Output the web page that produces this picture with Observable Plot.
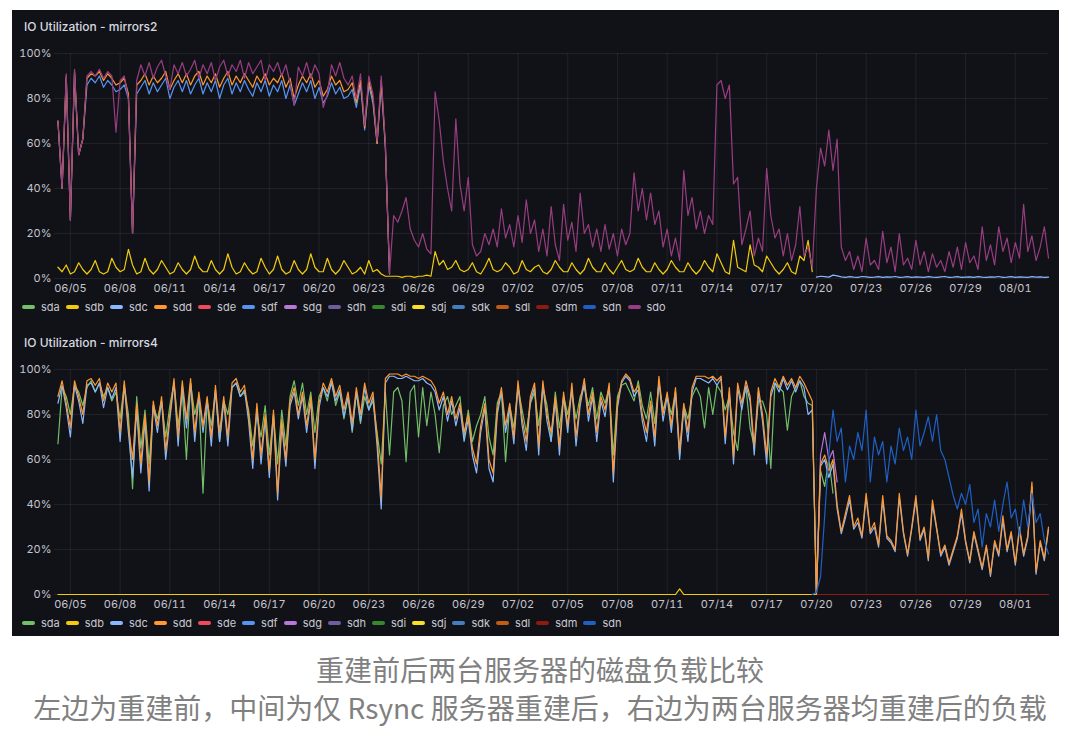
<!DOCTYPE html>
<html><head><meta charset="utf-8">
<script src="https://cdn.jsdelivr.net/npm/d3@7"></script>
<script src="https://cdn.jsdelivr.net/npm/@observablehq/plot@0.6"></script>
<style>
html,body{margin:0;padding:0;background:#fff;}
#page{position:relative;width:1080px;height:744px;overflow:hidden;font-family:Inter,"Noto Sans",sans-serif;}
#dash{position:absolute;left:12px;top:10px;width:1047px;height:626px;background:#111217;}
.ptitle{position:absolute;left:12px;font-size:12px;font-weight:500;color:#d8d9e0;line-height:14px;white-space:nowrap;}
.chart{position:absolute;left:0;}
.legend{position:absolute;left:10px;display:flex;font-size:11px;color:#c8c9d3;line-height:14px;white-space:nowrap;}
.item{display:flex;align-items:center;margin-right:6px;}
.sw{width:13px;height:4px;border-radius:2px;margin-right:6px;}
#caption{position:absolute;left:0;width:1080px;top:650px;text-align:center;font-family:"Noto Sans CJK SC";font-size:28px;line-height:38px;color:#808080;}
</style></head>
<body><div id="page">
<div id="dash">
  <div class="ptitle" id="t1" style="top:10px"></div>
  <div class="chart" id="c1" style="top:30px"></div>
  <div class="legend" id="l1" style="top:290px"></div>
  <div class="ptitle" id="t2" style="top:326px"></div>
  <div class="chart" id="c2" style="top:346px"></div>
  <div class="legend" id="l2" style="top:606px"></div>
</div>
<div id="caption"></div>
</div>
<script>
// ---------- texts ----------
const title1 = "IO Utilization - mirrors2";
const title2 = "IO Utilization - mirrors4";
const captionLines = ["重建前后两台服务器的磁盘负载比较", "左边为重建前，中间为仅 Rsync 服务器重建后，右边为两台服务器均重建后的负载"];

// ---------- legend / colours ----------
const legend1 = ["sda","sdb","sdc","sdd","sde","sdf","sdg","sdh","sdi","sdj","sdk","sdl","sdm","sdn","sdo"];
const legend2 = ["sda","sdb","sdc","sdd","sde","sdf","sdg","sdh","sdi","sdj","sdk","sdl","sdm","sdn"];
const diskColors = ["#73BF69","#F2CC0C","#8AB8FF","#FF9830","#F2495C","#5794F2","#B877D9","#705DA0","#37872D","#FADE2A","#447EBC","#C15C17","#8E1B10","#1F60C4","#973D82"];

// ---------- axes ----------
const xTickLabels = ["2023-06-05","2023-06-08","2023-06-11","2023-06-14","2023-06-17","2023-06-20","2023-06-23","2023-06-26","2023-06-29","2023-07-02","2023-07-05","2023-07-08","2023-07-11","2023-07-14","2023-07-17","2023-07-20","2023-07-23","2023-07-26","2023-07-29","2023-08-01"];
const yTicks = [0,20,40,60,80,100];
const xStart = "2023-06-04T01:00Z", xEnd = "2023-08-03T00:00Z";
// samples every 6 hours, index 0 = 2023-06-04 06:00
const sampleStart = "2023-06-04T06:00Z";
const sampleHours = 6;

// ---------- mirrors2 (values in %) ----------
const m2_sdo = [
70,40,91,26,93,55,62,90,92,90,
93,89,92,90,65,88,90,80,20,88,
95,90,96,89,94,97,90,84,95,91,
96,90,93,97,89,95,91,96,88,94,
97,90,95,92,97,89,96,91,94,97,
88,95,92,96,90,95,87,77,94,90,
96,89,95,91,76,82,95,90,96,89,
86,90,80,91,68,90,82,61,90,60,
2,28,25,30,36,22,17,14,20,13,
11,83,70,52,40,30,71,42,30,45,
15,10,12,20,15,22,14,31,18,24,
14,28,16,35,20,26,12,22,10,32,
15,8,33,17,25,12,38,20,24,14,
22,12,24,13,20,10,22,15,20,47,
30,40,26,38,24,30,14,22,10,18,
8,48,28,36,22,30,20,28,24,86,
88,80,86,42,45,15,22,30,10,18,
12,49,28,18,22,10,20,8,15,32,
10,14,5,40,58,50,66,48,62,14,
8,12,4,10,3,18,6,8,4,21,
7,14,3,20,6,9,4,17,6,12,
3,11,5,8,3,12,5,14,4,16,
7,10,4,23,8,15,6,23,12,18,
7,16,9,33,12,19,8,14,23,9];
const m2_sdd = [
70,40,90,26,92,55,62,89,91,90,
92,88,91,89,86,87,89,82,20,86,
88,91,86,90,87,89,92,84,88,91,
87,91,86,90,92,86,90,87,91,85,
89,92,86,90,87,91,88,85,90,87,
91,86,89,87,91,85,89,80,86,90,
87,91,85,88,81,84,90,86,88,83,
84,87,78,88,67,88,80,60,88,59,
2];
const m2_sdf = [
70,40,89,26,91,55,62,86,89,87,
90,85,88,86,83,84,86,80,20,82,
85,88,82,87,83,86,89,80,85,88,
83,88,82,86,89,82,87,83,88,80,
86,89,82,87,83,88,84,81,87,83,
88,81,86,83,88,80,86,77,82,87,
83,88,80,85,78,81,87,82,85,80,
81,84,76,86,66,86,78,60,86,58,
2];
const m2_sdb = [
5,3,6,2, 3,7,4,2, 4,8,3,2, 3,9,5,3, 4,13,6,2, 3,9,4,2, 4,8,5,2, 3,7,4,2,
4,10,5,3, 3,8,4,2, 4,11,5,2, 3,7,4,2, 3,9,5,2, 4,10,4,2, 3,8,4,2, 4,11,5,3,
3,9,4,2, 4,8,5,2, 3,5,2,8, 3,4,2,1,
1,1,1,0.5,1,1,0.5,1,1,1.5,1,
12,6,8,4, 5,8,4,3, 4,7,3,2, 5,9,4,3, 4,7,5,2, 3,8,4,3, 5,6,3,2, 4,8,5,3,
3,7,4,2, 4,9,5,3, 3,7,4,2, 5,8,4,3, 4,9,5,3, 3,7,4,2, 4,8,5,3, 3,7,4,2,
4,8,5,3, 11,7,3,2, 17,5,4,3, 15,6,5,3, 10,7,4,2, 4,7,3,2, 10,8,17,3];
const m2_sdc_start = 183;
const m2_sdc = [0.6,1,0.8,0.6,1.5,1.2,0.7,0.5,0.8,0.6,0.5,0.9,0.7,0.5,0.6,0.8,0.5,0.7,0.6,0.9,
0.5,0.6,0.8,0.5,0.7,0.6,0.5,0.8,0.6,0.5,0.7,0.9,0.5,0.6,0.8,0.5,0.6,0.7,0.5,0.8,
0.6,0.5,0.7,0.6,0.9,0.5,0.6,0.8,0.5,0.7,0.6,0.5,0.8,0.6,0.7,0.5,0.6];

// ---------- mirrors4 (values in %) ----------
const m4_sdd = [
88,95,85,74,95,88,80,95,96,93,
96,86,94,90,94,72,95,75,60,85,
58,80,50,86,75,88,64,80,96,70,
95,78,96,72,90,75,88,70,93,72,
88,70,94,96,90,93,80,60,85,62,
80,55,82,45,78,60,86,92,80,90,
75,88,60,85,94,90,96,88,93,82,
90,76,92,80,94,85,90,70,43,96,
98,98,98,97,98,97,97,96,97,96,
95,92,85,90,80,88,78,85,72,80,
65,58,75,85,60,54,82,92,75,85,
70,95,78,68,88,94,66,95,80,72,
88,66,90,75,94,70,86,96,80,90,
72,88,82,94,54,85,95,98,96,90,
93,80,72,86,70,97,80,90,75,92,
64,85,72,92,97,97,97,96,97,95,
97,70,92,61,94,85,95,88,66,92,
80,62,90,96,92,97,93,96,92,97,
94,90,86,0,58,62,55,60,40,28,
36,44,30,34,26,45,28,32,22,44,
26,24,20,45,28,18,30,44,25,30,
16,42,30,18,22,14,20,26,38,24,
15,28,20,12,22,9,24,18,35,20,
28,14,30,18,26,50,10,24,16,30];
const m4_sdc = [
85,93,83,70,93,86,76,93,94,90,
94,83,92,87,92,68,93,72,52,82,
54,77,46,84,72,86,60,78,94,66,
93,74,94,68,88,72,86,66,91,68,
86,66,92,94,88,91,77,56,83,58,
78,52,80,42,75,57,84,90,78,88,
72,86,56,83,92,88,94,86,91,79,
88,73,90,77,92,82,88,66,38,94,
97,97,96,96,97,96,95,95,96,94,
93,90,82,88,77,86,75,83,68,78,
62,54,72,83,56,50,80,90,72,83,
67,93,75,64,86,92,62,93,77,68,
86,62,88,72,92,66,84,94,77,88,
68,86,79,92,50,83,94,97,95,88,
91,77,68,84,66,95,77,88,72,90,
60,83,68,90,96,96,95,94,96,93,
96,67,90,58,92,82,93,86,62,90,
77,58,88,94,90,96,91,95,90,95,
92,80,82,0,57,60,52,58,38,27,
34,42,29,32,25,43,27,30,21,42,
25,23,19,43,27,17,29,42,24,29,
15,40,29,17,21,13,19,25,36,23,
14,27,19,11,21,8,23,17,33,19,
27,13,29,17,25,48,9,23,15,29];
const m4_sda = [
67,92,88,80,93,90,84,92,95,90,
94,88,92,86,90,78,93,80,47,88,
65,82,58,84,78,86,70,84,94,75,
90,60,94,80,88,45,86,75,90,68,
86,80,92,94,88,90,82,66,80,70,
84,62,80,58,82,66,88,95,84,94,
80,90,72,88,92,86,95,84,90,78,
88,72,90,76,88,82,86,72,58,90,
62,90,92,86,59,90,93,70,92,75,
90,80,63,84,88,80,84,88,70,82,
68,75,80,88,70,62,85,90,59,84,
74,92,82,72,85,90,75,92,84,68,
90,74,88,80,90,78,88,92,84,92,
78,90,85,92,62,88,93,94,90,86,
95,84,78,90,76,94,82,88,80,90,
62,84,78,88,92,88,74,92,80,93,
90,82,88,72,64,84,92,74,66,86,
86,80,56,94,92,90,73,88,92,95,
88,85,84,0,55,48,60,45];
const m4_sdg_start = 183;
const m4_sdg = [0,62,72,60,64,50];
const m4_sdn_start = 182;
const m4_sdn = [0,1,8,35,62,82,68,74,50,66,60,72,64,82,50,70,62,68,50,66,58,74,64,70,60,82,66,72,79,68,80,64,60,52,44,38,45,40,49,32,38,21,36,30,42,28,40,50,34,38,26,42,30,45,32,36,24,18];
// flat lines given as [sample index, value]
const m4_sdb_pts = [[0,0],[149,0],[150,2.5],[151,0],[183,0]];
const m4_sdm_pts = [[183,0],[239,0]];

// ---------- build ----------
const T0 = new Date(sampleStart).getTime();
const STEP = sampleHours * 3600 * 1000;
const rowsFrom = (name, values, start = 0) => values.map((v, k) => ({name, t: new Date(T0 + (start + k) * STEP), v}));
const rowsPairs = (name, pairs) => pairs.map(([k, v]) => ({name, t: new Date(T0 + k * STEP), v}));
const colorOf = Object.fromEntries(legend1.map((n, i) => [n, diskColors[i]]));
const ticks = xTickLabels.map(s => new Date(s + "T00:00Z"));

function panel(rows) {
  const names = [...new Set(rows.map(d => d.name))];
  return Plot.plot({
    width: 1047, height: 260,
    marginTop: 13, marginBottom: 22, marginLeft: 42, marginRight: 11,
    style: {background: "transparent", color: "#c4c5cf", fontFamily: "Inter, sans-serif", fontSize: "11px"},
    x: {type: "utc", domain: [new Date(xStart), new Date(xEnd)], ticks, tickFormat: d3.utcFormat("%m/%d"), tickSize: 0, tickPadding: 6, label: null},
    y: {domain: [0, 100], ticks: yTicks, tickFormat: d => d + "%", tickSize: 0, tickPadding: 3, label: null},
    color: {domain: names, range: names.map(n => colorOf[n])},
    marks: [
      Plot.ruleX(ticks, {stroke: "#ccccdc", strokeOpacity: 0.09}),
      Plot.ruleY(yTicks, {stroke: "#ccccdc", strokeOpacity: 0.09}),
      Plot.line(rows, {x: "t", y: "v", z: "name", stroke: "name", strokeWidth: 1.2, curve: "linear"})
    ]
  });
}

const rows1 = [
  ...rowsFrom("sdb", m2_sdb),
  ...rowsFrom("sdc", m2_sdc, m2_sdc_start),
  ...rowsFrom("sdf", m2_sdf),
  ...rowsFrom("sdd", m2_sdd),
  ...rowsFrom("sdo", m2_sdo)
];
const rows2 = [
  ...rowsPairs("sdb", m4_sdb_pts),
  ...rowsPairs("sdm", m4_sdm_pts),
  ...rowsFrom("sda", m4_sda),
  ...rowsFrom("sdc", m4_sdc),
  ...rowsFrom("sdg", m4_sdg, m4_sdg_start),
  ...rowsFrom("sdd", m4_sdd),
  ...rowsFrom("sdn", m4_sdn, m4_sdn_start)
];

document.getElementById("t1").textContent = title1;
document.getElementById("t2").textContent = title2;
document.getElementById("c1").appendChild(panel(rows1));
document.getElementById("c2").appendChild(panel(rows2));

function legend(el, names) {
  for (const n of names) {
    const it = document.createElement("div"); it.className = "item";
    const sw = document.createElement("div"); sw.className = "sw"; sw.style.background = colorOf[n];
    const tx = document.createElement("span"); tx.textContent = n;
    it.appendChild(sw); it.appendChild(tx); el.appendChild(it);
  }
}
legend(document.getElementById("l1"), legend1);
legend(document.getElementById("l2"), legend2);

const cap = document.getElementById("caption");
captionLines.forEach(s => { const d = document.createElement("div"); d.textContent = s; cap.appendChild(d); });
</script>
</body></html>
